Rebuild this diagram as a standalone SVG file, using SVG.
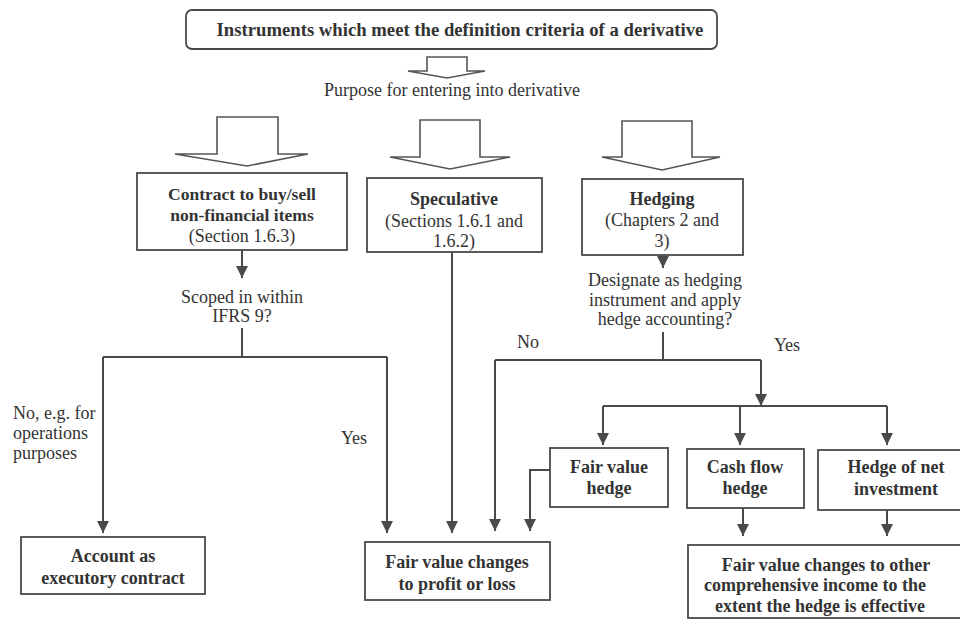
<svg xmlns="http://www.w3.org/2000/svg" width="960" height="620" viewBox="0 0 960 620">
<defs>
<marker id="ah" markerUnits="userSpaceOnUse" markerWidth="12" markerHeight="12" refX="10" refY="5" orient="auto" viewBox="0 0 10 10">
<path d="M0,0 L10,5 L0,10 Z" fill="#4a4a4a"/>
</marker>
</defs>
<style>
.box{fill:#fff;stroke:#4a4a4a;stroke-width:1.8}
.hollow{fill:#fff;stroke:#555;stroke-width:1.6;stroke-linejoin:miter}
.b{font-family:"Liberation Serif",serif;font-weight:bold;font-size:18px;fill:#333;text-anchor:middle}
.r{font-family:"Liberation Serif",serif;font-size:18px;fill:#333;text-anchor:middle}
.rs{font-family:"Liberation Serif",serif;font-size:18px;fill:#333}
.c{fill:none;stroke:#4a4a4a;stroke-width:2}
.ca{fill:none;stroke:#4a4a4a;stroke-width:2;marker-end:url(#ah)}
</style>
<rect width="960" height="620" fill="#fff"/>

<g id="top">
<rect class="box" x="186" y="10" width="531" height="39" rx="6"/>
<text class="b" x="460" y="36" style="font-size:18.7px">Instruments which meet the definition criteria of a derivative</text>
</g>

<g id="purpose-arrow">
<polygon class="hollow" points="427,57 467,57 467,71 485,71 447,78 408,71 427,71"/>
<text class="r" x="452" y="96">Purpose for entering into derivative</text>
</g>

<g id="big-arrows">
<polygon class="hollow" points="217,117 278,117 278,154 308,154 247,166 175,154 217,154"/>
<polygon class="hollow" points="420,120 480,120 480,157 510,157 450,169 390,157 420,157"/>
<polygon class="hollow" points="622,121 692,121 692,157 720,157 662,170 602,157 622,157"/>
</g>

<g id="contract">
<rect class="box" x="137" y="173" width="210" height="77"/>
<text class="b" x="242" y="200" style="font-size:17.5px">Contract to buy/sell</text>
<text class="b" x="242" y="221" style="font-size:17.5px">non-financial items</text>
<text class="r" x="242" y="242">(Section 1.6.3)</text>
</g>

<g id="speculative">
<rect class="box" x="367" y="178" width="175" height="74"/>
<text class="b" x="454" y="205">Speculative</text>
<text class="r" x="454" y="227">(Sections 1.6.1 and</text>
<text class="r" x="454" y="247">1.6.2)</text>
</g>

<g id="hedging">
<rect class="box" x="582" y="179" width="161" height="76"/>
<text class="b" x="662" y="205">Hedging</text>
<text class="r" x="662" y="226">(Chapters 2 and</text>
<text class="r" x="662" y="247">3)</text>
</g>

<g id="scoped">
<text class="r" x="242" y="303">Scoped in within</text>
<text class="r" x="242" y="322">IFRS 9?</text>
</g>

<g id="designate">
<text class="r" x="665" y="286">Designate as hedging</text>
<text class="r" x="665" y="306">instrument and apply</text>
<text class="r" x="665" y="325">hedge accounting?</text>
</g>

<g id="labels">
<text class="rs" x="13" y="419">No, e.g. for</text>
<text class="rs" x="13" y="439">operations</text>
<text class="rs" x="13" y="459">purposes</text>
<text class="r" x="354" y="444">Yes</text>
<text class="r" x="528" y="348">No</text>
<text class="r" x="787" y="351">Yes</text>
</g>

<g id="fvh">
<rect class="box" x="550" y="448" width="118" height="59"/>
<text class="b" x="609" y="473">Fair value</text>
<text class="b" x="609" y="494">hedge</text>
</g>

<g id="cfh">
<rect class="box" x="687" y="449" width="117" height="59"/>
<text class="b" x="745" y="473">Cash flow</text>
<text class="b" x="745" y="494">hedge</text>
</g>

<g id="hni">
<rect class="box" x="818" y="450" width="146" height="60"/>
<text class="b" x="896" y="473">Hedge of net</text>
<text class="b" x="896" y="495">investment</text>
</g>

<g id="account">
<rect class="box" x="21" y="537" width="184" height="57"/>
<text class="b" x="113" y="562">Account as</text>
<text class="b" x="113" y="584">executory contract</text>
</g>

<g id="fvpl">
<rect class="box" x="365" y="542" width="185" height="58"/>
<text class="b" x="457" y="568">Fair value changes</text>
<text class="b" x="457" y="590">to profit or loss</text>
</g>

<g id="oci">
<rect class="box" x="688" y="545" width="276" height="73"/>
<text class="b" x="826" y="571">Fair value changes to other</text>
<text class="b" x="815" y="591">comprehensive income to the</text>
<text class="b" x="820" y="612">extent the hedge is effective</text>
</g>

<g id="connectors">
<path class="ca" d="M242,250 V278"/>
<path class="c" d="M242,328 V357"/>
<path class="c" d="M103,357 H387"/>
<path class="ca" d="M103,357 V533"/>
<path class="ca" d="M387,357 V533"/>
<path class="ca" d="M452,252 V533"/>
<path class="ca" d="M663,255 V268"/>
<path class="c" d="M663,332 V360"/>
<path class="c" d="M495,360 H761"/>
<path class="ca" d="M761,360 V406"/>
<path class="c" d="M603,406 H887"/>
<path class="ca" d="M603,406 V445"/>
<path class="ca" d="M740,406 V445"/>
<path class="ca" d="M887,406 V445"/>
<path class="ca" d="M495,360 V531"/>
<path class="ca" d="M550,470 H530 V531"/>
<path class="ca" d="M743,508 V536"/>
<path class="ca" d="M887,510 V536"/>
</g>
</svg>
